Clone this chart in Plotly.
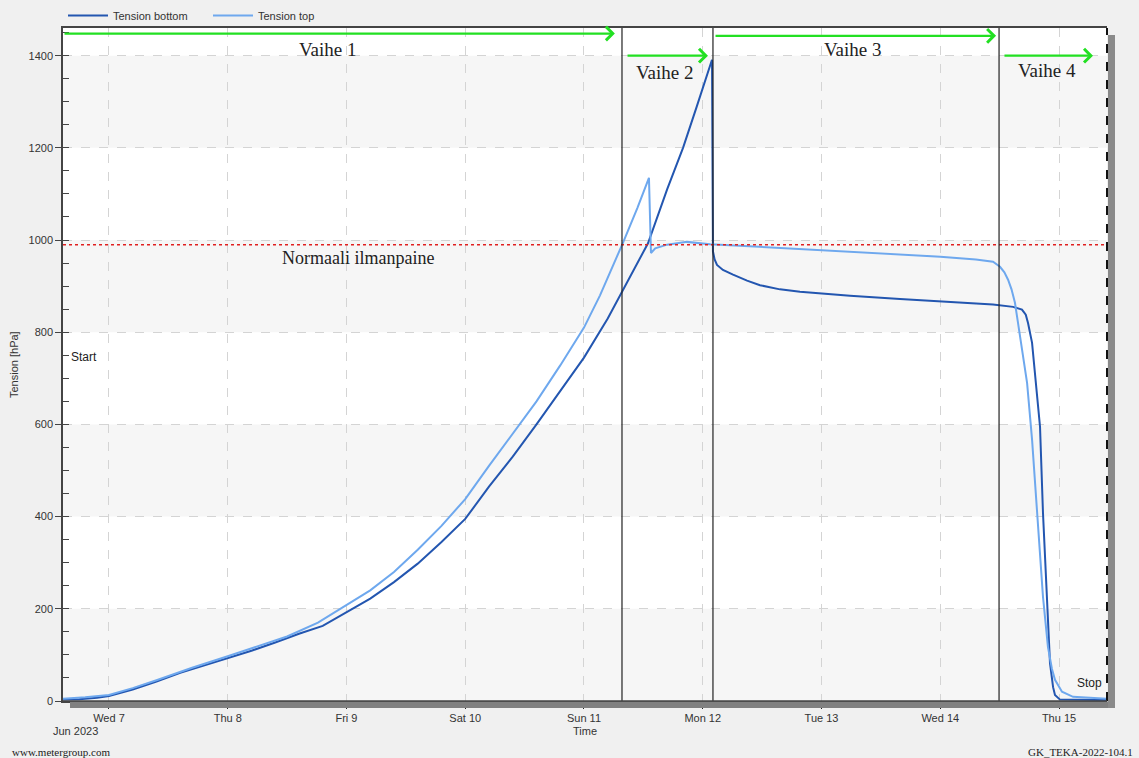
import pandas as pd
import plotly.graph_objects as go

# ---------------- data (days since 2023-06-07 00:00, hPa) ----------------
bottom_days = [-0.387, -0.25, -0.1, 0.0, 0.2, 0.4, 0.6, 0.8, 1.0, 1.2,
               1.4, 1.6, 1.8, 2.0, 2.2, 2.4, 2.6, 2.8, 3.0, 3.2,
               3.4, 3.6, 3.8, 4.0, 4.2, 4.328, 4.539, 4.7, 4.834, 4.95,
               5.078, 5.086, 5.1, 5.12, 5.17, 5.255, 5.373, 5.482, 5.65, 5.819,
               6.24, 6.661, 7.082, 7.444, 7.613, 7.688, 7.72, 7.739, 7.773, 7.798,
               7.84, 7.865, 7.899, 7.924, 7.95, 7.966, 8.008, 8.404]
bottom_hpa = [3, 4, 7, 11, 25, 42, 61, 77, 92, 109,
              127, 146, 163, 193, 222, 258, 298, 345, 395, 465,
              530, 600, 672, 745, 830, 892, 993, 1110, 1200, 1290,
              1391, 975, 958, 946, 935, 925, 912, 902, 893, 888,
              879, 872, 866, 860, 855, 849, 838, 820, 777, 712,
              595, 408, 219, 82, 30, 13, 3, 2]

top_days = [-0.387, -0.2, 0.0, 0.2, 0.4, 0.7, 1.0, 1.2, 1.5, 1.76,
            2.0, 2.2, 2.4, 2.6, 2.8, 3.0, 3.2, 3.4, 3.6, 3.8,
            4.0, 4.135, 4.2, 4.328, 4.45, 4.547, 4.564, 4.6, 4.7, 4.867,
            5.061, 5.5, 6.0, 6.5, 7.0, 7.3, 7.444, 7.503, 7.54, 7.571,
            7.6, 7.629, 7.65, 7.69, 7.731, 7.773, 7.815, 7.865, 7.907, 7.94,
            7.966, 8.025, 8.118, 8.404]
top_hpa = [5, 8, 13, 28, 45, 72, 97, 114, 140, 170,
           208, 240, 280, 328, 380, 438, 510, 580, 650, 728,
           810, 880, 918, 994, 1070, 1135, 972, 982, 990, 996,
           991, 985, 978, 971, 964, 958, 953, 942, 930, 914,
           893, 864, 830, 760, 690, 567, 408, 226, 117, 70,
           46, 20, 9, 5]

tick_days = [0, 1, 2, 3, 4, 5, 6, 7, 8]
tick_labels = ["Wed 7", "Thu 8", "Fri 9", "Sat 10", "Sun 11", "Mon 12", "Tue 13", "Wed 14", "Thu 15"]

phase_boundaries = [4.32, 5.086, 7.495]
phase_names = ["Vaihe 1", "Vaihe 2", "Vaihe 3", "Vaihe 4"]
normal_pressure = 990

x_range_days = [-0.387, 8.404]

base = pd.Timestamp("2023-06-07 00:00")


def t(d):
    return base + pd.to_timedelta(d, unit="D")


def ts(days):
    return [t(d) for d in days]


# ---------------- figure ----------------
BOTTOM_C = "#2356b0"
TOP_C = "#6ea8ee"
GREEN = "#22e022"
SERIF = "Liberation Serif, Times New Roman, serif"
SANS = "Arial, Liberation Sans, sans-serif"

fig = go.Figure()
fig.add_trace(go.Scatter(x=ts(bottom_days), y=bottom_hpa, mode="lines", name="Tension bottom",
                         line=dict(color=BOTTOM_C, width=2)))
fig.add_trace(go.Scatter(x=ts(top_days), y=top_hpa, mode="lines", name="Tension top",
                         line=dict(color=TOP_C, width=2)))

W, H = 1044.0, 673.0


def px(xp):
    return (xp - 63) / W


def py(yp):
    return (701 - yp) / H


shapes = []
# alternating horizontal bands
for y0 in [0, 400, 800, 1200]:
    shapes.append(dict(type="rect", xref="paper", x0=0, x1=1, yref="y", y0=y0, y1=y0 + 200,
                       fillcolor="#f6f6f6", line=dict(width=0), layer="below"))
# normal pressure line
shapes.append(dict(type="line", xref="paper", x0=0, x1=1, yref="y", y0=normal_pressure, y1=normal_pressure,
                   line=dict(color="#e02020", width=1.5, dash="dot")))
# phase boundaries
for b in phase_boundaries:
    shapes.append(dict(type="line", xref="x", x0=t(b), x1=t(b), yref="paper", y0=0, y1=1,
                       line=dict(color="#222222", width=1.2)))

# frame: shadow bars + dashed right edge
shapes.append(dict(type="rect", xref="paper", yref="paper", x0=px(70), x1=px(1115), y0=py(708), y1=py(701.5),
                   fillcolor="#808080", line=dict(width=0), layer="above"))
shapes.append(dict(type="rect", xref="paper", yref="paper", x0=px(1108), x1=px(1115), y0=py(708), y1=py(35),
                   fillcolor="#8a8a8a", line=dict(width=0), layer="above"))
shapes.append(dict(type="line", xref="paper", yref="paper", x0=1, x1=1, y0=0, y1=1,
                   line=dict(color="#111111", width=2, dash="dash")))
shapes.append(dict(type="line", xref="paper", yref="paper", x0=0, x1=1, y0=0, y1=0,
                   line=dict(color="#444444", width=1.5)))

annotations = []
# phase arrows
arrows = [(-0.387, 4.26, 1448), (4.354, 5.044, 1400), (5.095, 7.47, 1443), (7.528, 8.286, 1400)]
for a0, a1, yy in arrows:
    annotations.append(dict(x=t(a1), y=yy, ax=t(a0), ay=yy, xref="x", yref="y", axref="x", ayref="y",
                            text="", showarrow=True, arrowhead=4, arrowsize=1.2, arrowwidth=2.2,
                            arrowcolor=GREEN))
# phase labels
label_pos = [(1.844, 1413), (4.682, 1363), (6.265, 1413), (7.899, 1367)]
for name, (lx, ly) in zip(phase_names, label_pos):
    annotations.append(dict(x=t(lx), y=ly, xref="x", yref="y", text=name, showarrow=False,
                            xanchor="center", yanchor="middle",
                            font=dict(family=SERIF, size=19, color="#222222")))
annotations.append(dict(x=t(2.097), y=962, xref="x", yref="y", text="Normaali ilmanpaine", showarrow=False,
                        xanchor="center", yanchor="middle",
                        font=dict(family=SERIF, size=18, color="#222222")))


def paper_text(xp, yp, text, xanchor="center", size=11, family=SANS, angle=0, color="#333333"):
    annotations.append(dict(x=px(xp), y=py(yp), xref="paper", yref="paper", xanchor=xanchor, yanchor="middle",
                            text=text, showarrow=False, textangle=angle,
                            font=dict(family=family, size=size, color=color)))


paper_text(69, 357, "Start", xanchor="left", size=12, color="#222222")
paper_text(1075, 683, "Stop", xanchor="left", size=12, color="#222222")
paper_text(14, 365, "Tension [hPa]", angle=-90)
paper_text(585, 731, "Time")
paper_text(75, 731, "Jun 2023")
paper_text(10, 752, "www.metergroup.com", xanchor="left", family=SERIF, color="#222222")
paper_text(1135, 752, "GK_TEKA-2022-104.1", xanchor="right", family=SERIF, color="#222222")

fig.update_layout(
    width=1139, height=758, autosize=False,
    margin=dict(l=63, r=32, t=28, b=57, autoexpand=False),
    paper_bgcolor="#f0f0f0", plot_bgcolor="#ffffff",
    font=dict(family=SANS, size=11, color="#333333"),
    shapes=shapes, annotations=annotations,
    showlegend=True,
    legend=dict(orientation="h", x=0, xanchor="left", y=0.997, yanchor="bottom",
                bgcolor="rgba(0,0,0,0)", font=dict(size=11, color="#333333"),
                itemwidth=40, entrywidth=90, entrywidthmode="pixels"),
)
fig.update_xaxes(
    type="date", range=[t(x_range_days[0]), t(x_range_days[1])],
    tickvals=ts(tick_days), ticktext=tick_labels,
    showgrid=True, gridcolor="#d4d4d4", griddash="dash", gridwidth=1,
    ticks="outside", ticklen=6, tickcolor="#222222",
    showline=True, linecolor="#444444", linewidth=1.5, mirror=True,
    zeroline=False, tickfont=dict(size=11, color="#333333"),
)
fig.update_yaxes(
    range=[0, 1460], tickvals=[0, 200, 400, 600, 800, 1000, 1200, 1400],
    showgrid=True, gridcolor="#d4d4d4", griddash="dash", gridwidth=1,
    ticks="outside", ticklen=6, tickcolor="#444444",
    minor=dict(dtick=50, tick0=0, ticks="inside", ticklen=6, tickcolor="#444444", showgrid=False),
    showline=True, linecolor="#444444", linewidth=1.5,
    zeroline=False, tickfont=dict(size=11, color="#333333"),
)

fig.write_html("out.html")
